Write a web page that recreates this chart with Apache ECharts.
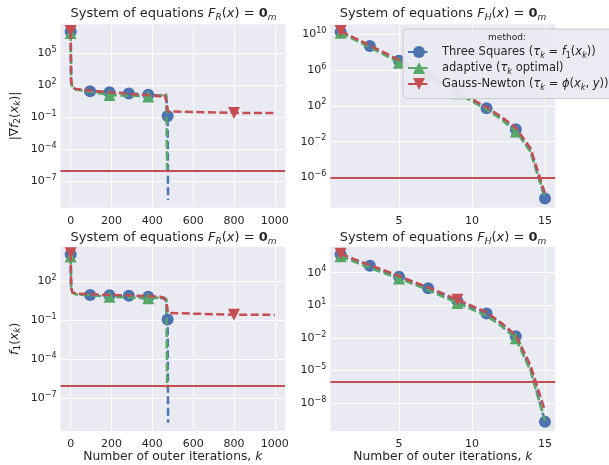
<!DOCTYPE html>
<html><head><meta charset="utf-8">
<script src="https://cdn.jsdelivr.net/npm/echarts@6/dist/echarts.min.js"></script>
<style>html,body{margin:0;padding:0;background:#fff}#c{width:609px;height:465px}</style>
</head><body><div id="c"></div>
<script>
// ---------------- data ----------------
// left panels: system F_R, iteration k (0..1000)
const TL_blue_k = [0, 2, 8, 25, 95, 190, 285, 380, 440, 468, 475, 477];
const TL_blue_v = [1.1e7, 250, 63, 42, 28, 22, 17, 13, 10.5, 9, 0.13, 1.6e-9];
const TL_green_k = [0, 2, 8, 25, 190, 380, 440, 455, 468, 473];
const TL_green_v = [8e6, 250, 63, 40, 12, 9, 10, 16, 14, 5e-7];
const TL_red_k = [0, 2, 8, 25, 100, 200, 300, 400, 440, 458, 466, 472, 476, 485, 800, 1000];
const TL_red_v = [1.25e7, 250, 63, 45, 30, 21, 15, 11, 9.3, 14, 5, 1.26, 0.35, 0.25, 0.25, 0.25];

const BL_blue_k = [0, 2, 8, 25, 95, 190, 285, 380, 440, 468, 475, 477];
const BL_blue_v = [1.1e4, 32, 12.6, 10, 8.3, 7.9, 7.4, 6.2, 5.2, 4, 0.11, 1.3e-9];
const BL_green_k = [0, 2, 8, 25, 190, 380, 440, 455, 468, 473];
const BL_green_v = [7400, 32, 12.6, 9.5, 6.2, 4.7, 5.2, 5.6, 4, 6.3e-7];
const BL_red_k = [0, 2, 8, 25, 100, 200, 300, 400, 440, 458, 466, 472, 476, 485, 800, 1000];
const BL_red_v = [1.35e4, 32, 14, 11, 9.5, 8.5, 7.6, 6.6, 6.2, 5, 2.8, 1.26, 0.35, 0.25, 0.26, 0.25];

const L_marks_blue = [0, 95, 190, 285, 380, 475];
const L_marks_green = [0, 190, 380];
const L_marks_red = [0, 800];

// right panels: system F_H, iteration k (1..15)
const R_k = [1, 2, 3, 4, 5, 6, 7, 8, 9, 10, 11, 12, 13, 14, 15];
const TR_blue_v = [1.8e10, 2.8e9, 4.8e8, 7.2e7, 1.1e7, 1.6e6, 2.5e5, 3.2e4, 4000, 450, 55, 4.5, 0.24, 1e-3, 4.5e-9];
const TR_green_v = [1.4e10, 2.2e9, 3.5e8, 5e7, 6.3e6, 1e6, 1.6e5, 2e4, 2500, 320, 40, 3.2, 0.14, 8e-4, 6.3e-9];
const TR_red_v = [2.2e10, 3.5e9, 5.6e8, 8.9e7, 1.25e7, 2e6, 3.2e5, 4e4, 5000, 560, 70, 6.3, 0.35, 2e-3, 1.6e-8];
const BR_blue_v = [4.9e5, 1.4e5, 4.4e4, 1.35e4, 4300, 1260, 370, 100, 25, 7, 1.8, 0.2, 0.0145, 1.6e-5, 2e-10];
const BR_green_v = [3.2e5, 9.5e4, 2.8e4, 8900, 3000, 890, 250, 63, 16, 4.2, 1.1, 0.126, 9.3e-3, 1e-5, 2.5e-10];
const BR_red_v = [5.6e5, 1.6e5, 5e4, 1.6e4, 5000, 1400, 450, 126, 32, 8.9, 2.2, 0.25, 0.018, 3.2e-5, 2e-9];

const R_marks_blue = [1, 3, 5, 7, 9, 11, 13, 15];
const R_marks_green = [1, 5, 9, 13];
const R_marks_red = [1, 9];

const TOL = 1e-6;

// tick labels
const L_xticks = [0, 200, 400, 600, 800, 1000];
const R_xticks = [5, 10, 15];
const TL_yticks = [1e-7, 1e-4, 1e-1, 1e2, 1e5];
const TR_yticks = [1e-6, 1e-2, 1e2, 1e6, 1e10];
const BL_yticks = [1e-7, 1e-4, 1e-1, 1e2];
const BR_yticks = [1e-8, 1e-5, 1e-2, 1e1, 1e4];

// ---------------- styling ----------------
const FONT = 'DejaVu Sans';
const TXT = '#262626';
const C_BLUE = '#4C72B0', C_GREEN = '#55A868', C_RED = '#C44E52';

function rich(fs) {
  const s = Math.round(fs * 0.7);
  return {
    n: {fontSize: fs, fontFamily: FONT, color: TXT},
    i: {fontSize: fs, fontFamily: FONT, fontStyle: 'italic', color: TXT},
    b: {fontSize: fs, fontFamily: FONT, fontWeight: 'bold', color: TXT},
    s: {fontSize: s, fontFamily: FONT, color: TXT, padding: [Math.round(fs * 0.6), 0, 0, 0]},
    si: {fontSize: s, fontFamily: FONT, fontStyle: 'italic', color: TXT, padding: [Math.round(fs * 0.6), 0, 0, 0]},
    p: {fontSize: s, fontFamily: FONT, color: TXT, padding: [0, 0, Math.round(fs * 0.6), 0]}
  };
}

const lg = v => Math.log10(v);
const supLabel = v => {
  const e = Math.round(v);
  return '{n|10}{p|' + (e < 0 ? '\u2212' + (-e) : e) + '}';
};

const grids = [
  {left: 60.5, top: 24.5, width: 224.5, height: 183},
  {left: 330.4, top: 24.5, width: 224.8, height: 183},
  {left: 60.5, top: 246.7, width: 224.5, height: 184.3},
  {left: 330.4, top: 246.7, width: 224.8, height: 184.3}
].map(g => Object.assign({show: true, backgroundColor: '#EAEAF2', borderWidth: 0}, g));

const xName = '{n|Number of outer iterations, }{i|k}';
function xAx(gi, min, max, ticks, named) {
  return {
    type: 'value', gridIndex: gi, min, max,
    axisLine: {show: false}, axisTick: {show: false, customValues: ticks},
    axisLabel: {customValues: ticks, formatter: v => String(Math.round(v)), fontSize: 11, fontFamily: FONT, color: TXT, margin: 8},
    splitLine: {show: true, lineStyle: {color: '#ffffff', width: 1}},
    name: named ? xName : '', nameLocation: 'middle', nameGap: 19,
    nameTextStyle: {fontSize: 12.3, fontFamily: FONT, color: TXT, rich: rich(12.3)}
  };
}
function yAx(gi, min, max, ticks, name) {
  const t = ticks.map(lg);
  return {
    type: 'value', gridIndex: gi, min, max,
    axisLine: {show: false}, axisTick: {show: false, customValues: t},
    axisLabel: {customValues: t, formatter: supLabel, rich: rich(11), fontSize: 11, fontFamily: FONT, color: TXT, margin: 4},
    splitLine: {show: true, lineStyle: {color: '#ffffff', width: 1}},
    name: name || '', nameLocation: 'middle', nameGap: 38, nameRotate: 90,
    nameTextStyle: {fontSize: 12.3, fontFamily: FONT, color: TXT, rich: rich(12.3)}
  };
}

const TRI_DOWN = 'path://M0,0L2,0L1,2Z';
function mk(name, xs, vs, marks, gi, z, color, symbol, tol) {
  const s = {
    type: 'line', name, xAxisIndex: gi, yAxisIndex: gi, z,
    data: xs.map((x, i) => ({value: [x, lg(vs[i])], symbol: marks.includes(x) ? symbol : 'none'})),
    symbol, symbolSize: 12, showSymbol: true, showAllSymbol: true,
    lineStyle: {color, width: 2.5, type: [8, 3.5]}, itemStyle: {color, borderWidth: 0},
    emphasis: {disabled: true}, animation: false, silent: true, clip: true
  };
  if (tol) {
    s.markLine = {silent: true, symbol: 'none', animation: false,
      data: [{yAxis: lg(TOL)}], label: {show: false},
      lineStyle: {color: C_RED, width: 2, type: 'solid'}, emphasis: {disabled: true}};
  }
  return s;
}

const series = [
  mk('ts', TL_blue_k, TL_blue_v, L_marks_blue, 0, 2, C_BLUE, 'circle'),
  mk('ad', TL_green_k, TL_green_v, L_marks_green, 0, 3, C_GREEN, 'triangle'),
  mk('gn', TL_red_k, TL_red_v, L_marks_red, 0, 4, C_RED, TRI_DOWN, true),
  mk('ts', R_k, TR_blue_v, R_marks_blue, 1, 2, C_BLUE, 'circle'),
  mk('ad', R_k, TR_green_v, R_marks_green, 1, 3, C_GREEN, 'triangle'),
  mk('gn', R_k, TR_red_v, R_marks_red, 1, 4, C_RED, TRI_DOWN, true),
  mk('ts', BL_blue_k, BL_blue_v, L_marks_blue, 2, 2, C_BLUE, 'circle'),
  mk('ad', BL_green_k, BL_green_v, L_marks_green, 2, 3, C_GREEN, 'triangle'),
  mk('gn', BL_red_k, BL_red_v, L_marks_red, 2, 4, C_RED, TRI_DOWN, true),
  mk('ts', R_k, BR_blue_v, R_marks_blue, 3, 2, C_BLUE, 'circle'),
  mk('ad', R_k, BR_green_v, R_marks_green, 3, 3, C_GREEN, 'triangle'),
  mk('gn', R_k, BR_red_v, R_marks_red, 3, 4, C_RED, TRI_DOWN, true)
];

const LEG = {
  ts: '{n|Three Squares (}{i|\u03c4}{si|k}{n| = }{i|f}{s|1}{n|(}{i|x}{si|k}{n|))}',
  ad: '{n|adaptive (}{i|\u03c4}{si|k}{n| optimal)}',
  gn: '{n|Gauss-Newton (}{i|\u03c4}{si|k}{n| = }{i|\u03d5}{n|(}{i|x}{si|k}{n|, }{i|y}{n|))}'
};

const titleR = '{n|System of equations }{i|F}{si|R}{n|(}{i|x}{n|) = }{b|0}{si|m}';
const titleH = '{n|System of equations }{i|F}{si|H}{n|(}{i|x}{n|) = }{b|0}{si|m}';
function ttl(text, x, y) {
  return {type: 'text', x, y, z: 100, silent: true,
    style: {text, rich: rich(13), fontSize: 13, fontFamily: FONT, fill: TXT,
      align: 'center', verticalAlign: 'middle', textAlign: 'center', textVerticalAlign: 'middle'}};
}

const option = {
  animation: false,
  backgroundColor: '#ffffff',
  grid: grids,
  xAxis: [
    xAx(0, -50, 1050, L_xticks, false),
    xAx(1, 0.3, 15.7, R_xticks, false),
    xAx(2, -50, 1050, L_xticks, true),
    xAx(3, 0.3, 15.7, R_xticks, true)
  ],
  yAxis: [
    yAx(0, -9.49, 7.71, TL_yticks, '{n||\u2207}{i|f}{s|2}{n|(}{i|x}{si|k}{n|)|}'),
    yAx(1, -9.35, 11.08, TR_yticks, ''),
    yAx(2, -9.51, 4.63, BL_yticks, '{i|f}{s|1}{n|(}{i|x}{si|k}{n|)}'),
    yAx(3, -10.55, 6.39, BR_yticks, '')
  ],
  legend: {
    orient: 'vertical', left: 403, top: 29, z: 20,
    padding: [17, 5, 7, 4],
    itemWidth: 22, itemHeight: 15, itemGap: 2.5,
    backgroundColor: 'rgba(234,234,242,0.95)', borderColor: '#cccccc',
    borderWidth: 1, borderRadius: 4,
    data: ['ts', 'ad', 'gn'],
    formatter: n => LEG[n],
    selectedMode: false,
    textStyle: {fontSize: 11.5, fontFamily: FONT, color: TXT, rich: rich(11.5), padding: [0, 0, 0, 7]}
  },
  graphic: [
    ttl(titleR, 173.5, 14),
    ttl(titleH, 443, 14),
    ttl(titleR, 173.5, 237.5),
    ttl(titleH, 443, 237.5),
    {type: 'text', x: 507, y: 38, z: 100, zlevel: 0, silent: true,
      style: {text: 'method:', fontSize: 9, fontFamily: FONT, fill: TXT,
        align: 'center', verticalAlign: 'middle', textAlign: 'center', textVerticalAlign: 'middle'}}
  ],
  series
};

const chart = echarts.init(document.getElementById('c'), null, {renderer: 'canvas'});
chart.setOption(option);
</script>
</body></html>
